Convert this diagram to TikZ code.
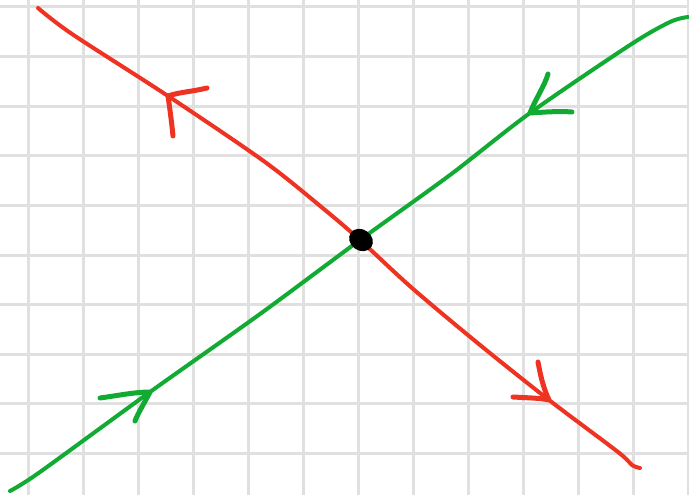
\documentclass[tikz,border=0pt]{standalone}
\usetikzlibrary{calc,shapes.geometric}
\definecolor{penred}{HTML}{EE3322}
\definecolor{pengreen}{HTML}{11AA33}
\definecolor{gridgray}{HTML}{E0E0E0}
\begin{document}
\begin{tikzpicture}[x=1pt,y=-1pt,
  gridline/.style={draw=gridgray,line width=3pt},
  redpen/.style={draw=penred,line width=4pt,line cap=round,line join=round},
  greenpen/.style={draw=pengreen,line width=4pt,line cap=round,line join=round},
  tipred/.style={draw=penred,line width=5pt,line cap=round,line join=round},
  tipgreen/.style={draw=pengreen,line width=5pt,line cap=round,line join=round}]
\useasboundingbox (0,0) rectangle (689,495);
\fill[white] (0,0) rectangle (689,495);
% grid
\foreach \i in {0,...,12} {\draw[gridline] ({28+55*\i},0) -- ({28+55*\i},495);}
\foreach \j in {0,...,9} {\draw[gridline] (0,{7+49.6*\j}) -- (689,{7+49.6*\j});}
% red line
\coordinate (r0) at (38,8);
\coordinate (rA) at (168,96);
\coordinate (rB) at (549,400);
\coordinate (r1) at (640,468);
\draw[redpen] plot[smooth,tension=0.5] coordinates {(38,8) (72,34) (168,96) (265,162) (325,210) (360,240) (412,288) (480,345) (549,400) (618,452) (632,465) (640,468)};
% red arrow tips
\draw[tipred] (207,88) .. controls (190,92) and (180,92) .. (rA) .. controls (170,110) and (172,125) .. (173,136);
\draw[tipred] (513,397) .. controls (530,398) and (540,398) .. (rB) .. controls (542,385) and (540,372) .. (538,362);
% green line
\coordinate (gA) at (150,392);
\coordinate (gB) at (530,113);
\draw[greenpen] plot[smooth,tension=0.5] coordinates {(10,491) (40,472) (150,392) (260,314) (360,240) (450,175) (530,113) (630,45) (670,22) (688,17)};
% green arrow tips
\draw[tipgreen] (100,398) .. controls (115,396) and (135,392) .. (gA) .. controls (145,402) and (138,413) .. (135,421);
\draw[tipgreen] (548,74) .. controls (545,85) and (535,100) .. (gB) .. controls (545,112) and (560,111) .. (572,112);
% black dot
\node[fill=black,ellipse,minimum width=25pt,minimum height=21pt,inner sep=0pt,rotate=-35] (dot) at (361,240) {};
\end{tikzpicture}
\end{document}
